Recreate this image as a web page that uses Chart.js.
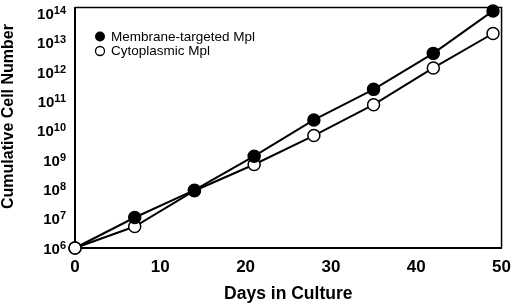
<!DOCTYPE html>
<html>
<head>
<meta charset="utf-8">
<script src="https://cdn.jsdelivr.net/npm/chart.js@4/dist/chart.umd.min.js"></script>
<style>
  html, body { margin: 0; padding: 0; background: #fff; }
  #wrap { width: 520px; height: 307px; }
</style>
</head>
<body>
<div id="wrap"><canvas id="cellChart" width="520" height="307"></canvas></div>
<script>
// Days in culture (x values)
const days = [0, 7, 14, 21, 28, 35, 42, 49];

// Cumulative cell numbers
const membraneCells = [1e6, 1.1e7, 9.4e7, 1.36e9, 2.35e10, 2.6e11, 4.4e12, 1.24e14];
const cytoplasmicCells = [1e6, 5.4e6, 9.0e7, 7.1e8, 6.9e9, 7.8e10, 1.4e12, 2.1e13];

// Series names and axis labels
const seriesNames = ['Membrane-targeted Mpl', 'Cytoplasmic Mpl'];
const yExponents = [6, 7, 8, 9, 10, 11, 12, 13, 14];
const xTicks = [0, 10, 20, 30, 40, 50];
const xTitle = 'Days in Culture';
const yTitle = 'Cumulative Cell Number';

const FONT = 'Arial, "Liberation Sans", Helvetica, sans-serif';

const toPoints = (vals) => vals.map((v, i) => ({ x: days[i], y: v }));

// Draws the 10^n labels, y title, the top/right frame and the inset legend
const extrasPlugin = {
  id: 'extras',
  afterDraw(chart) {
    const ctx = chart.ctx;
    const area = chart.chartArea;
    const yScale = chart.scales.y;
    ctx.save();
    ctx.fillStyle = '#000';
    ctx.strokeStyle = '#000';

    // y tick labels with superscript exponents
    ctx.textAlign = 'left';
    ctx.textBaseline = 'alphabetic';
    const rightEdge = area.left - 9;
    yExponents.forEach((e) => {
      const py = yScale.getPixelForValue(Math.pow(10, e));
      ctx.font = 'bold 11px ' + FONT;
      const ew = ctx.measureText(String(e)).width;
      ctx.font = 'bold 15px ' + FONT;
      const bw = ctx.measureText('10').width;
      ctx.fillText('10', rightEdge - ew - bw, py + 5.5);
      ctx.font = 'bold 11px ' + FONT;
      ctx.fillText(String(e), rightEdge - ew, py + 0.5);
    });

    // rotated y axis title (sits a little above the plot centre in the figure)
    ctx.save();
    ctx.translate(9, 116.5);
    ctx.rotate(-Math.PI / 2);
    ctx.textAlign = 'center';
    ctx.textBaseline = 'middle';
    ctx.font = 'bold 16px ' + FONT;
    ctx.fillText(yTitle, 0, 0);
    ctx.restore();

    // top and right sides of the frame
    ctx.lineWidth = 1.5;
    ctx.beginPath();
    ctx.moveTo(area.left, area.top);
    ctx.lineTo(area.right, area.top);
    ctx.lineTo(area.right, area.bottom);
    ctx.stroke();

    // legend inside the plot
    const lx = area.left + 25;
    const rows = [area.top + 29, area.top + 43.5];
    ctx.font = '13.5px ' + FONT;
    ctx.textAlign = 'left';
    ctx.textBaseline = 'middle';
    seriesNames.forEach((name, i) => {
      ctx.beginPath();
      ctx.arc(lx, rows[i], i === 0 ? 5 : 4.5, 0, Math.PI * 2);
      if (i === 0) {
        ctx.fill();
      } else {
        ctx.fillStyle = '#fff';
        ctx.fill();
        ctx.lineWidth = 1.3;
        ctx.stroke();
        ctx.fillStyle = '#000';
      }
      ctx.fillText(name, lx + 11, rows[i] + 0.5);
    });
    ctx.restore();
  }
};

const chartConfig = {
  type: 'line',
  data: {
    datasets: [
      {
        label: seriesNames[0],
        data: toPoints(membraneCells),
        borderColor: '#000',
        borderWidth: 2,
        pointRadius: 6,
        pointBorderWidth: 1.5,
        pointBorderColor: '#000',
        // first point sits under the open marker in the figure
        pointBackgroundColor: days.map((d, i) => (i === 0 ? '#fff' : '#000')),
        tension: 0,
        clip: false,
        order: 1
      },
      {
        label: seriesNames[1],
        data: toPoints(cytoplasmicCells),
        borderColor: '#000',
        borderWidth: 2,
        pointRadius: 6,
        pointBorderWidth: 1.5,
        pointBorderColor: '#000',
        pointBackgroundColor: '#fff',
        tension: 0,
        clip: false,
        order: 2
      }
    ]
  },
  options: {
    responsive: false,
    animation: false,
    layout: { padding: { top: 3, right: 9, left: 0, bottom: 0 } },
    scales: {
      x: {
        type: 'linear',
        min: 0,
        max: 50,
        afterFit: (scale) => { scale.height = 59; },
        afterBuildTicks: (scale) => { scale.ticks = xTicks.map((v) => ({ value: v })); },
        grid: { display: false, drawTicks: false },
        border: { display: true, color: '#000', width: 2 },
        ticks: {
          color: '#000',
          padding: 9,
          font: { family: FONT, size: 17, weight: 'bold' }
        },
        title: {
          display: true,
          text: xTitle,
          color: '#000',
          padding: { top: 0, bottom: 2 },
          font: { family: FONT, size: 17.5, weight: 'bold' }
        }
      },
      y: {
        type: 'logarithmic',
        min: 1e6,
        max: 1.62e14,
        afterFit: (scale) => { scale.width = 75; },
        grid: { display: false, drawTicks: false },
        border: { display: true, color: '#000', width: 2 },
        ticks: { display: false },
        title: { display: false }
      }
    },
    plugins: {
      legend: { display: false },
      tooltip: { enabled: false }
    }
  },
  plugins: [extrasPlugin]
};

const ctx = document.getElementById('cellChart').getContext('2d');
const cellChart = new Chart(ctx, chartConfig);
</script>
</body>
</html>
